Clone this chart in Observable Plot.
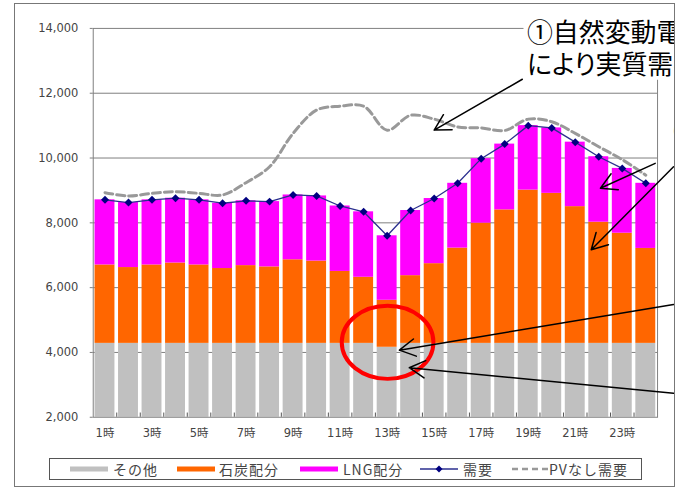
<!DOCTYPE html>
<html><head><meta charset="utf-8">
<script src="https://cdn.jsdelivr.net/npm/d3@7"></script>
<script src="https://cdn.jsdelivr.net/npm/@observablehq/plot@0.6"></script>
<style>
body{margin:0;background:#fff;}
#wrap{position:relative;width:677px;height:490px;overflow:hidden;font-family:"Noto Sans CJK JP",sans-serif;}
#clip{position:absolute;left:0;top:0;width:675px;height:452px;overflow:hidden;}
#frame{position:absolute;left:14px;top:3px;width:661px;height:484px;box-sizing:border-box;border:1.5px solid #777;pointer-events:none;}
#legend{position:absolute;left:49px;top:458px;width:593px;height:22px;box-sizing:border-box;border:1px solid #555;background:#fff;}
#legend .sw{position:absolute;}
#legend .lb{position:absolute;top:0;line-height:20px;font-size:14px;color:#444;letter-spacing:1px;white-space:nowrap;}
svg text{font-feature-settings:"palt";}
</style>
</head><body>
<div id="wrap">
  <div id="clip"></div>
  <div id="legend"></div>
  <div id="frame"></div>
</div>
<script>
// ---- data ----
const hours = [1,2,3,4,5,6,7,8,9,10,11,12,13,14,15,16,17,18,19,20,21,22,23,24];
const hourLabels = [1,3,5,7,9,11,13,15,17,19,21,23];
const yTicks = [2000,4000,6000,8000,10000,12000,14000];
const seriesNames = ["その他","石炭配分","LNG配分"];
const seriesColors = ["#C0C0C0","#FF6600","#FF00FF"];
const other = [4280,4280,4280,4280,4280,4280,4280,4280,4280,4280,4280,4280,4160,4280,4280,4280,4280,4280,4280,4280,4280,4280,4280,4280];
const coal  = [2420,2340,2420,2480,2420,2310,2400,2360,2580,2540,2220,2040,1450,2090,2460,2940,3710,4120,4730,4630,4220,3740,3400,2930];
const lng   = [2010,2005,2010,2000,2010,2015,2000,2015,2000,2010,2020,2020,1990,2010,2010,2000,1990,2030,1990,2020,1990,2020,2000,2010];
const demand = [8710,8625,8710,8760,8710,8605,8680,8655,8860,8830,8520,8340,7600,8380,8750,9220,9980,10430,11000,10930,10490,10040,9680,9220];
const pvNone = [8930,8830,8910,8960,8910,8860,9240,9730,10760,11480,11600,11600,10860,11320,11200,10960,10930,10850,11200,11120,10760,10350,9950,9470];
const lineNames = ["需要","PVなし需要"];
const annotLines = ["①自然変動電源","により実質需要"];
const annotSecond = "②";
// annotation anchors in data units (hour, MW)
const annotAnchor = [{x:18.945, y:13831},{x:18.945, y:12862}];
const annotBox = [{x1:18.82, x2:25.3, y1:12400, y2:14560}];
const secondAnchor = [{x:25.17, y:10770}];
const arrows = [
  {x1:18.75, y1:12431, x2:15.0,  y2:10862},
  {x1:24.40, y1:9837,  x2:22.07, y2:9068},
  {x1:25.18, y1:9732,  x2:21.68, y2:7169},
  {x1:25.18, y1:5477,  x2:13.52, y2:4071},
  {x1:25.18, y1:2738,  x2:13.94, y2:3529}
];
const ring = {x:13.04, y:4298, dx:1.95, dy:1129};

// ---- stacked rows ----
const rows = [];
hours.forEach((h,i)=>{
  let base = 0;
  [other, coal, lng].forEach((arr,k)=>{
    rows.push({hour:h, series:seriesNames[k], y1:base, y2:base+arr[i]});
    base += arr[i];
  });
});
const boundaries = hours.slice(0,-1).map(h=>h+0.5);

function ellipseMark(index, scales) {
  const {x, y} = scales;
  const cx = x(ring.x), cy = y(ring.y);
  const rx = x(ring.x + ring.dx) - cx, ry = cy - y(ring.y + ring.dy);
  const e = document.createElementNS("http://www.w3.org/2000/svg","ellipse");
  e.setAttribute("cx", cx); e.setAttribute("cy", cy);
  e.setAttribute("rx", rx); e.setAttribute("ry", ry);
  e.setAttribute("fill","none"); e.setAttribute("stroke","#FF0000"); e.setAttribute("stroke-width", 4);
  return e;
}

const plot = Plot.plot({
  width: 677, height: 452,
  marginLeft: 93, marginRight: 18, marginTop: 28, marginBottom: 34,
  x: {domain:[0.5,24.5], axis:null},
  y: {domain:[2000,14000], axis:null},
  color: {domain: seriesNames, range: seriesColors},
  style: {fontFamily: '"DejaVu Sans","Noto Sans CJK JP",sans-serif', fontSize: "11.5px", color: "#444", background: "transparent"},
  marks: [
    Plot.gridY(yTicks.slice(1,-1), {stroke:"#808080", strokeOpacity:1}),
    Plot.rect(rows, {x1: d=>d.hour-0.5, x2: d=>d.hour+0.5, y1:"y1", y2:"y2", fill:"series", insetLeft:1.8, insetRight:1.8, clip:true}),
    Plot.frame({stroke:"#808080"}),
    Plot.ruleX(boundaries, {x: d=>d, y1: 2000, y2: 2130, stroke:"#555"}),
    Plot.axisY(yTicks, {tickSize:3, tickPadding:12, tickFormat: d3.format(","), stroke:"#808080", fill:"#444"}),
    Plot.axisX(hourLabels, {tickSize:0, tickPadding:12, tickFormat: d=>d+"時", fill:"#444"}),
    Plot.line(hours, {x: d=>d, y: (d,i)=>pvNone[i], stroke:"#999999", strokeWidth:3, strokeDasharray:"8,4", curve:"catmull-rom"}),
    Plot.line(hours, {x: d=>d, y: (d,i)=>demand[i], stroke:"#2B2F8F", strokeWidth:1.3}),
    Plot.dot(hours, {x: d=>d, y: (d,i)=>demand[i], symbol:"diamond2", r:3.6, fill:"#000080", stroke:"none"}),
    ellipseMark,
    Plot.rect(annotBox, {x1:"x1", x2:"x2", y1:"y1", y2:"y2", fill:"white"}),
    Plot.text(annotLines, {x:(d,i)=>annotAnchor[i].x, y:(d,i)=>annotAnchor[i].y, text:d=>d, textAnchor:"start", lineAnchor:"middle", fontSize:26, fill:"black", fontFamily:'"Noto Sans CJK JP",sans-serif'}),
    Plot.text(secondAnchor, {x:"x", y:"y", text:()=>annotSecond, textAnchor:"start", fontSize:26, fill:"#666", fontFamily:'"Noto Sans CJK JP",sans-serif'}),
    Plot.arrow(arrows, {x1:"x1", y1:"y1", x2:"x2", y2:"y2", stroke:"black", strokeWidth:1.5, headLength:18, headAngle:58})
  ]
});
document.getElementById("clip").appendChild(plot);

// ---- legend (HTML, below the SVG) ----
const legendItems = [
  {label: seriesNames[0], kind:"bar", color: seriesColors[0], sx:20, tx:63},
  {label: seriesNames[1], kind:"bar", color: seriesColors[1], sx:127, tx:169},
  {label: seriesNames[2], kind:"bar", color: seriesColors[2], sx:250, tx:293},
  {label: lineNames[0], kind:"line", color:"#2B2F8F", sx:370, tx:413},
  {label: lineNames[1], kind:"dash", color:"#999999", sx:461, tx:499}
];
const leg = document.getElementById("legend");
legendItems.forEach(it=>{
  const sw = document.createElementNS("http://www.w3.org/2000/svg","svg");
  sw.setAttribute("class","sw");
  sw.setAttribute("width",38); sw.setAttribute("height",12);
  sw.style.left = it.sx+"px"; sw.style.top = "4px";
  if (it.kind==="bar") {
    sw.innerHTML = `<rect x="0" y="3.5" width="38" height="5" fill="${it.color}"/>`;
  } else if (it.kind==="line") {
    sw.innerHTML = `<line x1="0" y1="6" x2="38" y2="6" stroke="${it.color}" stroke-width="1.5"/><path d="M19,2.5L22.5,6L19,9.5L15.5,6Z" fill="#000080"/>`;
  } else {
    sw.innerHTML = `<line x1="1" y1="6" x2="38" y2="6" stroke="${it.color}" stroke-width="2.5" stroke-dasharray="6,4"/>`;
  }
  leg.appendChild(sw);
  const lb = document.createElement("span");
  lb.className = "lb"; lb.textContent = it.label; lb.style.left = it.tx+"px";
  leg.appendChild(lb);
});
</script>
</body></html>
